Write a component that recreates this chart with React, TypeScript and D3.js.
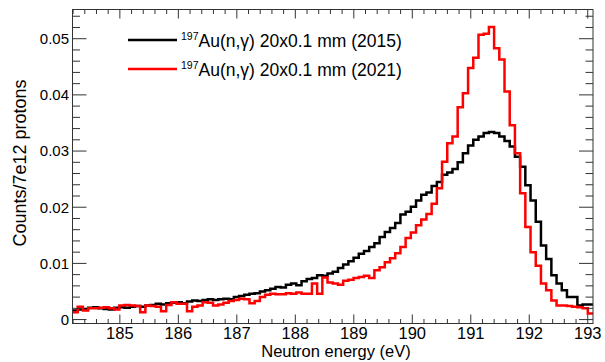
import React from 'react';
import * as d3 from 'd3';

// ---- data ----
const BIN_LOW = 184.19;
const BIN_HIGH = 193.09;
const N_BINS = 100;
const X_DOMAIN: [number, number] = [184.19, 193.09];
const Y_DOMAIN: [number, number] = [-0.0007, 0.0552];
const X_TICKS = [185, 186, 187, 188, 189, 190, 191, 192, 193];
const X_TICK_LABELS = ['185', '186', '187', '188', '189', '190', '191', '192', '193'];
const Y_TICKS = [0, 0.01, 0.02, 0.03, 0.04, 0.05];
const Y_TICK_LABELS = ['0', '0.01', '0.02', '0.03', '0.04', '0.05'];
const X_MINOR_STEP = 0.2;
const Y_MINOR_STEP = 0.002;

const black2015 = [
  0.0016, 0.0018, 0.0019, 0.0021, 0.0022, 0.0020, 0.0019, 0.0018, 0.0021, 0.0022,
  0.0021, 0.0023, 0.0024, 0.0023, 0.0025, 0.0026, 0.0028, 0.0027, 0.0029, 0.0030,
  0.0031, 0.0029, 0.0032, 0.0034, 0.0033, 0.0035, 0.0036, 0.0035, 0.0036, 0.0037,
  0.0036, 0.0040, 0.0042, 0.0044, 0.0046, 0.0047, 0.0050, 0.0052, 0.0055, 0.0058,
  0.0057, 0.0062, 0.0064, 0.0061, 0.0068, 0.0072, 0.0074, 0.0079, 0.0078, 0.0082,
  0.0085, 0.0092, 0.0098, 0.0104, 0.0110, 0.0117, 0.0122, 0.0129, 0.0136, 0.0147,
  0.0156, 0.0163, 0.0172, 0.0187, 0.0192, 0.0201, 0.0212, 0.0222, 0.0226, 0.0238,
  0.0245, 0.0258, 0.0262, 0.0268, 0.0280, 0.0296, 0.0310, 0.0320, 0.0326, 0.0332,
  0.0334, 0.0332, 0.0326, 0.0318, 0.0308, 0.0290, 0.0272, 0.0239, 0.0212, 0.0174,
  0.0132, 0.0108, 0.0079, 0.0064, 0.0052, 0.0040, 0.0040, 0.0025, 0.0027, 0.0027,
];

const red2021 = [
  0.0013, 0.0023, 0.0016, 0.0020, 0.0020, 0.0021, 0.0022, 0.0020, 0.0018, 0.0025,
  0.0026, 0.0025, 0.0024, 0.0013, 0.0025, 0.0024, 0.0023, 0.0015, 0.0026, 0.0031,
  0.0028, 0.0028, 0.0015, 0.0023, 0.0025, 0.0031, 0.0030, 0.0025, 0.0027, 0.0030,
  0.0033, 0.0035, 0.0037, 0.0036, 0.0029, 0.0033, 0.0040, 0.0044, 0.0046, 0.0045,
  0.0045, 0.0047, 0.0046, 0.0048, 0.0046, 0.0046, 0.0064, 0.0046, 0.0075, 0.0066,
  0.0064, 0.0062, 0.0069, 0.0071, 0.0074, 0.0076, 0.0078, 0.0074, 0.0088, 0.0093,
  0.0102, 0.0109, 0.0118, 0.0129, 0.0145, 0.0155, 0.0168, 0.0178, 0.0188, 0.0206,
  0.0234, 0.0281, 0.0314, 0.0326, 0.0378, 0.0403, 0.0448, 0.0466, 0.0507, 0.0509,
  0.0521, 0.0483, 0.0463, 0.0406, 0.0346, 0.0296, 0.0225, 0.0165, 0.0120, 0.0096,
  0.0064, 0.0052, 0.0034, 0.0025, 0.0025, 0.0024, 0.0023, 0.0022, 0.0020, 0.0011,
];

const SERIES = [
  { iso: '197', label: 'Au(n,\u03b3) 20x0.1 mm (2015)', values: black2015, color: '#000000' },
  { iso: '197', label: 'Au(n,\u03b3) 20x0.1 mm (2021)', values: red2021, color: '#ff0000' },
];

const X_TITLE = 'Neutron energy (eV)';
const Y_TITLE = 'Counts/7e12 protons';

// ---- layout ----
const W = 605;
const H = 362;
const L = 72.5;
const R = 593;
const T = 9.5;
const B = 323.5;
const FONT = '"Liberation Sans", Arial, Helvetica, sans-serif';

export default function App() {
  const x = d3.scaleLinear().domain(X_DOMAIN).range([L, R]);
  const y = d3.scaleLinear().domain(Y_DOMAIN).range([B, T]);
  const binW = (BIN_HIGH - BIN_LOW) / N_BINS;

  const histPath = (vals: number[]) => {
    const pts: [number, number][] = vals.map((v, i) => [BIN_LOW + i * binW, v]);
    pts.push([BIN_LOW + vals.length * binW, vals[vals.length - 1]]);
    return d3
      .line<[number, number]>()
      .x((d) => x(d[0]))
      .y((d) => y(d[1]))
      .curve(d3.curveStepAfter)(pts) as string;
  };

  const xMinor: number[] = [];
  for (let v = Math.ceil(X_DOMAIN[0] / X_MINOR_STEP) * X_MINOR_STEP; v <= X_DOMAIN[1] + 1e-9; v += X_MINOR_STEP) {
    const r = Math.round(v * 10) / 10;
    if (Math.abs(r - Math.round(r)) > 1e-6) xMinor.push(r);
  }
  const yMinor: number[] = [];
  for (let v = 0; v <= Y_DOMAIN[1] + 1e-9; v += Y_MINOR_STEP) {
    const r = Math.round(v * 1000) / 1000;
    if (Math.abs(r * 100 - Math.round(r * 100)) > 1e-6) yMinor.push(r);
  }

  const axisColor = '#333';
  const yMaj = 14, yMin = 7.5, xMaj = 9, xMin = 4.5;

  return (
    <svg width={W} height={H} style={{ position: 'absolute', left: 0, top: 0, background: '#fff' }} fontFamily={FONT}>
      <rect x={0} y={0} width={W} height={H} fill="#fff" />
      <defs>
        <clipPath id="plotClip">
          <rect x={L} y={T} width={R - L} height={B - T} />
        </clipPath>
      </defs>

      {/* histograms */}
      <g clipPath="url(#plotClip)">
        {SERIES.map((s) => (
          <path key={s.label} d={histPath(s.values)} fill="none" stroke={s.color} strokeWidth={2.5} strokeLinejoin="miter" />
        ))}
      </g>

      {/* frame */}
      <rect x={L} y={T} width={R - L} height={B - T} fill="none" stroke={axisColor} strokeWidth={1} />

      {/* y ticks */}
      {Y_TICKS.map((v) => (
        <g key={'ym' + v}>
          <line x1={L} x2={L + yMaj} y1={y(v)} y2={y(v)} stroke={axisColor} />
          <line x1={R} x2={R - yMaj} y1={y(v)} y2={y(v)} stroke={axisColor} />
        </g>
      ))}
      {yMinor.map((v) => (
        <g key={'yn' + v}>
          <line x1={L} x2={L + yMin} y1={y(v)} y2={y(v)} stroke={axisColor} />
          <line x1={R} x2={R - yMin} y1={y(v)} y2={y(v)} stroke={axisColor} />
        </g>
      ))}
      {/* x ticks */}
      {X_TICKS.map((v) => (
        <g key={'xm' + v}>
          <line x1={x(v)} x2={x(v)} y1={B} y2={B - xMaj} stroke={axisColor} />
          <line x1={x(v)} x2={x(v)} y1={T} y2={T + xMaj} stroke={axisColor} />
        </g>
      ))}
      {xMinor.map((v) => (
        <g key={'xn' + v}>
          <line x1={x(v)} x2={x(v)} y1={B} y2={B - xMin} stroke={axisColor} />
          <line x1={x(v)} x2={x(v)} y1={T} y2={T + xMin} stroke={axisColor} />
        </g>
      ))}

      {/* tick labels */}
      {Y_TICKS.map((v, i) => (
        <text key={'yl' + v} x={69} y={y(v) + 5.4} fontSize={15} textAnchor="end" fill="#000">
          {Y_TICK_LABELS[i]}
        </text>
      ))}
      {X_TICKS.map((v, i) => (
        <text key={'xl' + v} x={x(v)} y={339} fontSize={16.5} textAnchor="middle" fill="#000">
          {X_TICK_LABELS[i]}
        </text>
      ))}

      {/* axis titles */}
      <text x={336} y={357} fontSize={16.5} textAnchor="middle" fill="#000">{X_TITLE}</text>
      <text transform="translate(25.5,163) rotate(-90)" fontSize={18} textAnchor="middle" fill="#000">{Y_TITLE}</text>

      {/* legend */}
      {SERIES.map((s, i) => {
        const ly = 40 + i * 29;
        return (
          <g key={'lg' + i}>
            <line x1={128} x2={177} y1={ly} y2={ly} stroke={s.color} strokeWidth={2.5} />
            <text x={181} y={ly + 6.5} fill="#000">
              <tspan fontSize={10.5} dy={-6.5}>{s.iso}</tspan>
              <tspan fontSize={17.5} dy={6.5}>{s.label}</tspan>
            </text>
          </g>
        );
      })}
    </svg>
  );
}
